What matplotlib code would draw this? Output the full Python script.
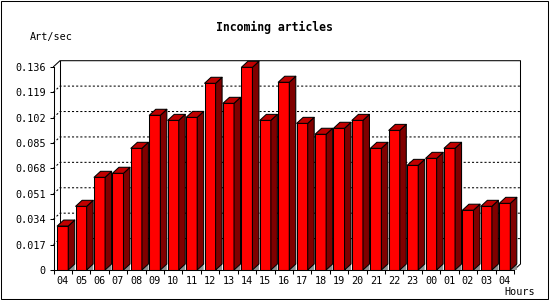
import numpy as np
import matplotlib.pyplot as plt
from matplotlib.collections import PolyCollection
from matplotlib.patches import Rectangle

# hourly incoming article rate
hours = ['04', '05', '06', '07', '08', '09', '10', '11', '12', '13', '14', '15', '16',
         '17', '18', '19', '20', '21', '22', '23', '00', '01', '02', '03', '04']
rate = [0.0294, 0.0426, 0.0620, 0.0647, 0.0814, 0.1035, 0.1001, 0.1021, 0.1249,
        0.1115, 0.1356, 0.1001, 0.1256, 0.0981, 0.0908, 0.0948, 0.1001, 0.0814,
        0.0934, 0.0700, 0.0747, 0.0814, 0.0400, 0.0426, 0.0446]
yticks = [0, 0.017, 0.034, 0.051, 0.068, 0.085, 0.102, 0.119, 0.136]
ylabels = ['0', '0.017', '0.034', '0.051', '0.068', '0.085', '0.102', '0.119', '0.136']

W, H = 550, 300
fig = plt.figure(figsize=(W / 100, H / 100), dpi=100)
ax = fig.add_axes([53.5 / W, 30 / H, 460.5 / W, 203.3 / H])
n = len(rate)
ymax = yticks[-1]
ax.set_xlim(0, n)
ax.set_ylim(0, ymax)

# depth of the fake 3d look, pixels -> data
dx = 6.5 / (460.5 / n)
dy = 6.0 * ymax / 203.3

lw = 0.75
mono = 'DejaVu Sans Mono'

# back plane frame
fr = dict(color='black', lw=lw, clip_on=False, zorder=2)
ax.plot([0, dx, n + dx, n + dx, n], [ymax, ymax + dy, ymax + dy, dy, 0], **fr)
ax.plot([dx, dx], [dy, ymax + dy], **fr)

# dotted grid on back plane
for t in yticks[1:-1]:
    ax.plot([0, dx, n + dx], [t, t + dy, t + dy], color='black', lw=lw,
            ls=(0, (2, 2)), clip_on=False, zorder=1)

# bars: front, side, top, floor shadow
x = np.arange(n) + 0.2
bw = 0.6
ax.bar(x, rate, width=bw, align='edge', color='#ff0000', edgecolor='black',
       linewidth=lw, zorder=4)
sides, tops, shadows = [], [], []
for xi, v in zip(x, rate):
    r = xi + bw
    sides.append([(r, 0), (r, v), (r + dx, v + dy), (r + dx, dy)])
    tops.append([(xi, v), (r, v), (r + dx, v + dy), (xi + dx, v + dy)])
    shadows.append([(r, 0), (r + dx, dy), (r + dx, 0)])
ax.add_collection(PolyCollection(shadows, facecolors='#909090', edgecolors='none',
                                 zorder=3, clip_on=False))
ax.add_collection(PolyCollection(sides, facecolors='#800000', edgecolors='black',
                                 linewidths=lw, zorder=4, clip_on=False))
ax.add_collection(PolyCollection(tops, facecolors='#c00000', edgecolors='black',
                                 linewidths=lw, zorder=4, clip_on=False))

# axes / ticks
for s in ['top', 'right']:
    ax.spines[s].set_visible(False)
for s in ['left', 'bottom']:
    ax.spines[s].set_linewidth(lw)
    ax.spines[s].set_zorder(5)
ax.set_yticks(yticks)
ax.set_yticklabels(ylabels, family=mono, fontsize=7.3)
ax.tick_params(axis='y', length=3.2, width=lw, pad=2.5)
ax.set_xticks(np.arange(n) + 0.5)
ax.set_xticklabels(hours, family=mono, fontsize=7.3)
ax.set_xticks(np.arange(n + 1), minor=True)
ax.tick_params(axis='x', which='major', length=0, pad=4.5)
ax.tick_params(axis='x', which='minor', length=3.2, width=lw)
ax.patch.set_visible(False)

fig.text(274 / W, 1 - 27 / H, 'Incoming articles', family=mono, fontweight='bold',
         fontsize=8.3, ha='center', va='center')
fig.text(30 / W, 1 - 37 / H, 'Art/sec', family=mono, fontsize=7.3, ha='left', va='center')
fig.text(504 / W, 1 - 292 / H, 'Hours', family=mono, fontsize=7.3, ha='left', va='center')

fig.patches.append(Rectangle((0.5 / W, 1.5 / H), 547 / W, 297.5 / H, fill=False,
                             edgecolor='black', lw=lw, transform=fig.transFigure))

fig.savefig('out.png', dpi=100)
